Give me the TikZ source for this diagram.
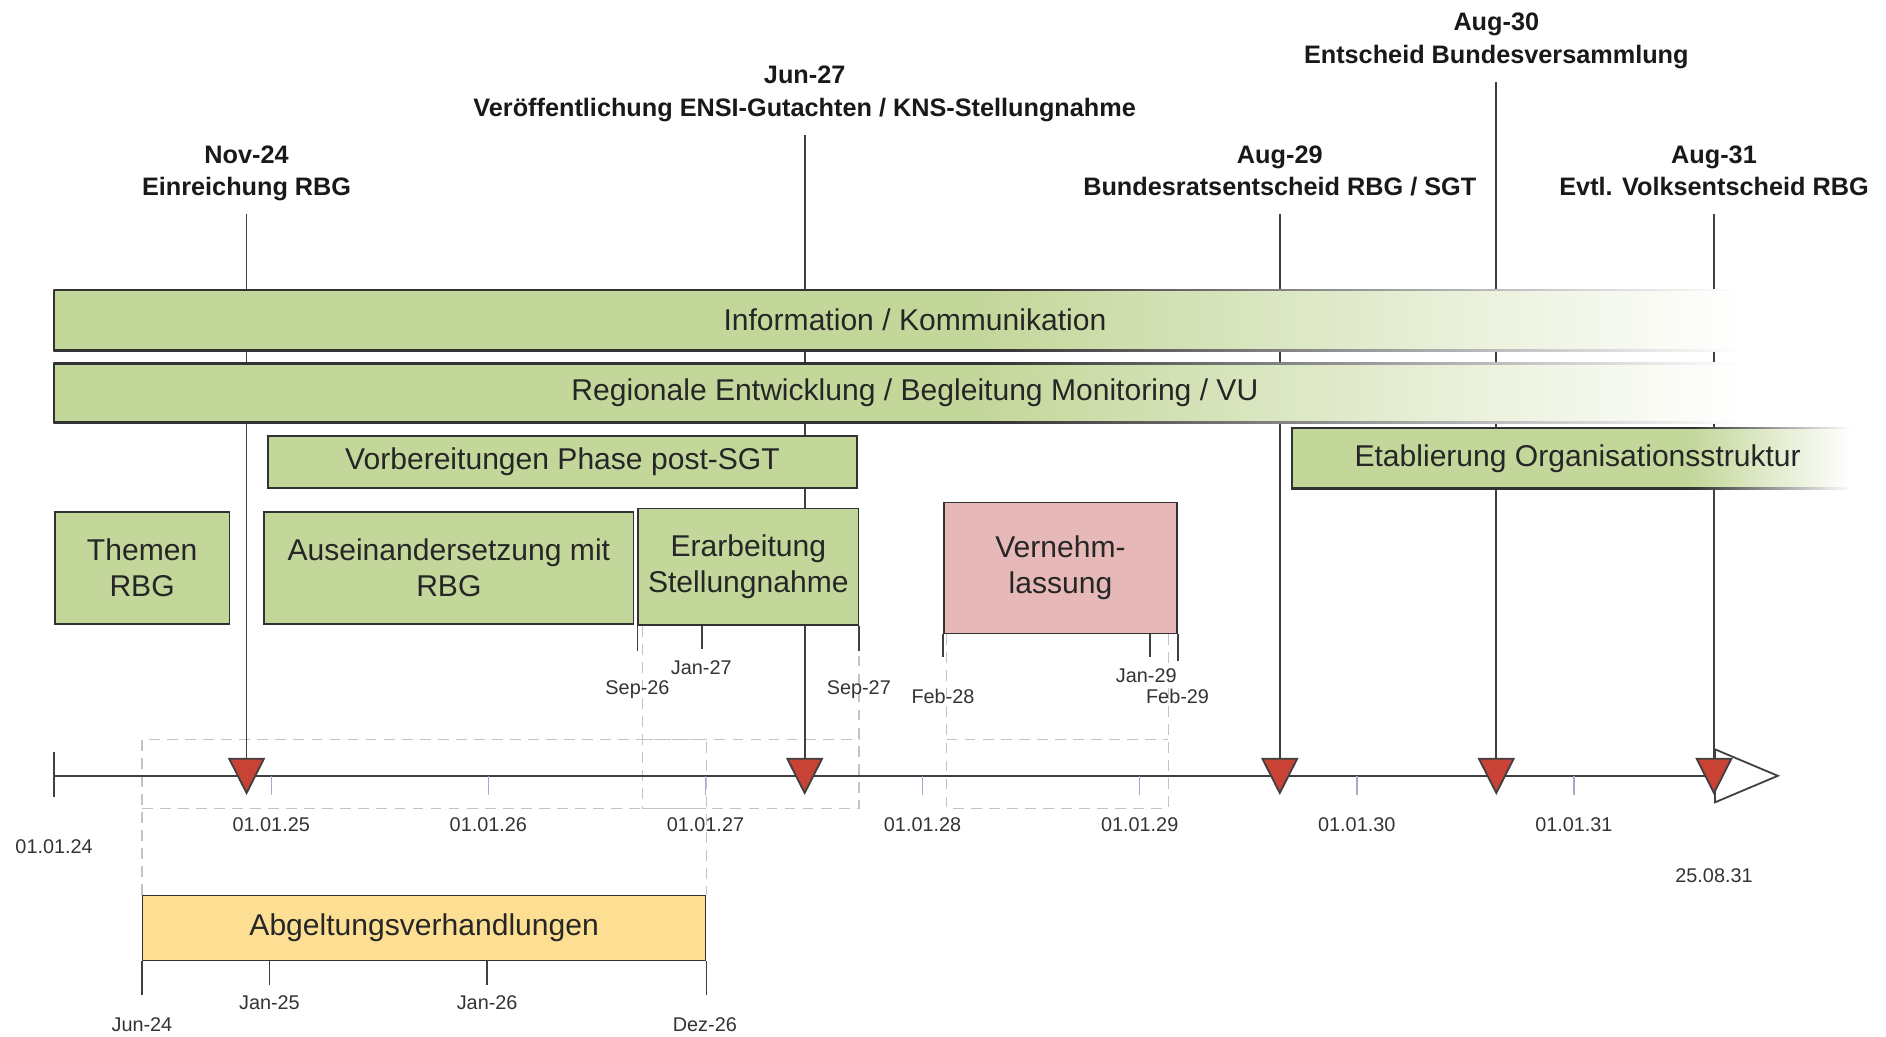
\documentclass[tikz,border=0pt]{standalone}
\usepackage{fontspec}
\setmainfont{Liberation Sans}
\usepackage{xcolor}
\usepackage{tikz}
\usetikzlibrary{positioning}
\usetikzlibrary{calc}
\usetikzlibrary{arrows.meta}

\definecolor{phasegreen}{RGB}{196,215,155}
\definecolor{phasepink}{RGB}{230,185,184}
\definecolor{phaseyellow}{RGB}{252,223,147}
\definecolor{milered}{RGB}{200,66,54}
\definecolor{linegray}{RGB}{64,64,64}
\definecolor{rimgray}{RGB}{50,50,50}
\definecolor{guidegray}{RGB}{195,195,195}
\definecolor{tickblue}{RGB}{165,170,205}

% the path covers 25bp..75bp of a shading
\pgfdeclarehorizontalshading{barshade}{100bp}{color(0bp)=(phasegreen); color(52bp)=(phasegreen); color(74bp)=(white); color(100bp)=(white)}
\pgfdeclarehorizontalshading{barrimshade}{100bp}{color(0bp)=(rimgray); color(52bp)=(rimgray); color(74bp)=(white); color(100bp)=(white)}
\pgfdeclarehorizontalshading{orgshade}{100bp}{color(0bp)=(phasegreen); color(60bp)=(phasegreen); color(74bp)=(white); color(100bp)=(white)}
\pgfdeclarehorizontalshading{orgrimshade}{100bp}{color(0bp)=(rimgray); color(60bp)=(rimgray); color(74bp)=(white); color(100bp)=(white)}

\pgfdeclarelayer{back}
\pgfsetlayers{back,main}

\begin{document}
\begin{tikzpicture}[x=1pt,y=-1pt,
  phase/.style={draw=rimgray, line width=1.3pt, fill=phasegreen, inner sep=0pt, align=center, text=black!85, font=\fontsize{25}{30}\selectfont, anchor=north west},
  fadebar/.style={phase, draw=none, fill=none, shade},
  rim/.style={draw=rimgray, line width=1.3pt},
  evtitle/.style={align=center, inner sep=0pt, text=black!90, font=\fontsize{21}{27}\selectfont\bfseries},
  evline/.style={draw=linegray, line width=1.5pt, -{Triangle[length=31pt,width=31pt,fill=milered]}},
  axisline/.style={draw=linegray, line width=1.5pt},
  yeartick/.style={draw=tickblue, line width=1.2pt},
  boxtick/.style={draw=linegray, line width=1.3pt},
  guide/.style={draw=guidegray, line width=1.2pt, dash pattern=on 9pt off 6pt},
  datelbl/.style={inner sep=0pt, text=black!80, font=\fontsize{16.5}{20}\selectfont}]
\useasboundingbox (0,0) rectangle (1568,862);

%%%%%%%%%%%%%% phases
\node[fadebar, shading=barshade, minimum width=1430pt, minimum height=49pt] (info) at (45,241) {Information / Kommunikation};
\shade[shading=barrimshade] ($(info.north west)+(-0.65,-0.65)$) rectangle ($(info.north east)+(0,0.65)$);
\shade[shading=barrimshade] ($(info.south west)+(-0.65,-0.65)$) rectangle ($(info.south east)+(0,0.65)$);
\draw[rim] (info.north west) -- (info.south west);
\node[fadebar, shading=barshade, minimum width=1430pt, minimum height=48pt] (region) at (45,302) {Regionale Entwicklung / Begleitung Monitoring / VU};
\shade[shading=barrimshade] ($(region.north west)+(-0.65,-0.65)$) rectangle ($(region.north east)+(0,0.65)$);
\shade[shading=barrimshade] ($(region.south west)+(-0.65,-0.65)$) rectangle ($(region.south east)+(0,0.65)$);
\draw[rim] (region.north west) -- (region.south west);
\node[fadebar, shading=orgshade, minimum width=474pt, minimum height=49pt] (orgs) at (1074,356) {Etablierung Organisationsstruktur};
\shade[shading=orgrimshade] ($(orgs.north west)+(-0.65,-0.65)$) rectangle ($(orgs.north east)+(0,0.65)$);
\shade[shading=orgrimshade] ($(orgs.south west)+(-0.65,-0.65)$) rectangle ($(orgs.south east)+(0,0.65)$);
\draw[rim] (orgs.north west) -- (orgs.south west);

\node[phase, minimum width=490pt, minimum height=43pt] (prep) at (222,362) {Vorbereitungen Phase post-SGT};
\node[phase, minimum width=145pt, minimum height=93pt] (themen) at (45,425) {Themen\\RBG};
\node[phase, minimum width=307pt, minimum height=93pt] (ausein) at (219,425) {Auseinandersetzung mit\\RBG};
\node[phase, minimum width=183pt, minimum height=97pt] (erarb) at (530,422) {Erarbeitung\\Stellungnahme};
\node[phase, fill=phasepink, minimum width=194pt, minimum height=109pt] (vernehm) at (784,417) {Vernehm-\\lassung};
\node[phase, fill=phaseyellow, minimum width=468pt, minimum height=54pt] (abgelt) at (118,744) {Abgeltungsverhandlungen};

%%%%%%%%%%%%%% phase dates
\draw[boxtick] (erarb.south west) -- ++(0,21);
\draw[boxtick] ($(erarb.south west)!0.29!(erarb.south east)$) coordinate (erj) -- ++(0,19);
\draw[boxtick] (erarb.south east) -- ++(0,21);
\node[datelbl] (sep26) at (530,573) {Sep-26};
\node[datelbl] (jan27) at (583,555) {Jan-27};
\node[datelbl] (sep27) at (714,573) {Sep-27};

\draw[boxtick] (vernehm.south west) -- ++(0,19);
\draw[boxtick] ($(vernehm.south east)+(-23,0)$) coordinate (vnj) -- ++(0,19);
\draw[boxtick] (vernehm.south east) -- ++(0,22);
\node[datelbl] (feb28) at (784,579) {Feb-28};
\node[datelbl] (jan29) at (953,562) {Jan-29};
\node[datelbl] (feb29) at (979,579) {Feb-29};

\draw[boxtick] (abgelt.south west) -- ++(0,28);
\draw[boxtick] ($(abgelt.south west)+(106,0)$) coordinate (abj25) -- ++(0,20);
\draw[boxtick] ($(abgelt.south west)+(287,0)$) coordinate (abj26) -- ++(0,20);
\draw[boxtick] (abgelt.south east) -- ++(0,28);
\node[datelbl] (jun24) at (118,852) {Jun-24};
\node[datelbl] (jan25) at (224,834) {Jan-25};
\node[datelbl] (jan26) at (405,834) {Jan-26};
\node[datelbl] (dez26) at (586,852) {Dez-26};

%%%%%%%%%%%%%% timeline
\coordinate (axstart) at (45,645);
\coordinate (axend) at (1480,645);
\coordinate (bandtop) at (0,615);
\coordinate (bandbot) at (0,672);
\coordinate (erl) at ($(erarb.south west)+(4,0)$);
\coordinate (vnl) at ($(vernehm.south west)+(3,0)$);
\coordinate (vnr) at ($(vernehm.south east)+(-8,0)$);

\begin{pgfonlayer}{back}
\draw[guide] (abgelt.north west) -- (abgelt.north west |- bandtop) -- (abgelt.north east |- bandtop) -- (abgelt.north east);
\draw[guide] (abgelt.north west |- bandbot) -- (abgelt.north east |- bandbot);
\draw[guide] (erl) -- (erl |- bandbot) -- (erarb.south east |- bandbot) -- (erarb.south east);
\draw[guide] (erl |- bandtop) -- (erarb.south east |- bandtop);
\draw[guide] (vnl) -- (vnl |- bandbot) -- (vnr |- bandbot) -- (vnr);
\draw[guide] (vnl |- bandtop) -- (vnr |- bandtop);

\draw[axisline, -{Triangle[open,length=55pt,width=46pt]}] (axstart) -- (axend);
\draw[axisline] ($(axstart)+(0,-20)$) -- ($(axstart)+(0,18)$);
\foreach \yr [count=\k] in {25,...,31} {
  \coordinate (y\yr) at ({45+180.5*\k},645);
  \draw[yeartick] (y\yr) -- ++(0,16);
}

%%%%%%%%%%%%%% milestones
\coordinate (t1) at (205,178);  \coordinate (m1) at (205,661);
\coordinate (t2) at (669,112);  \coordinate (m2) at (669,661);
\coordinate (t3) at (1064,178); \coordinate (m3) at (1064,661);
\coordinate (t4) at (1244,68);  \coordinate (m4) at (1244,661);
\coordinate (t5) at (1425,178); \coordinate (m5) at (1425,661);
\foreach \i in {1,...,5} {
  \draw[evline] (t\i) -- (m\i);
}
\end{pgfonlayer}

\node[evtitle, above=7pt of t1] (h1) {Nov-24\\Einreichung RBG\strut};
\node[evtitle, above=7pt of t2] (h2) {Jun-27\\Veröffentlichung ENSI-Gutachten / KNS-Stellungnahme\strut};
\node[evtitle, above=7pt of t3] (h3) {Aug-29\\Bundesratsentscheid RBG / SGT\strut};
\node[evtitle, above=7pt of t4] (h4) {Aug-30\\Entscheid Bundesversammlung\strut};
\node[evtitle, above=7pt of t5] (h5) {Aug-31\\Evtl. Volksentscheid RBG\strut};

%%%%%%%%%%%%%% axis dates
\node[datelbl] (ly24) at (45,704) {01.01.24};
\foreach \yr [count=\k] in {25,...,31} {
  \node[datelbl] (ly\yr) at ({45+180.5*\k},686) {01.01.\yr};
}
\node[datelbl] (lend) at (1425,728) {25.08.31};

\end{tikzpicture}
\end{document}
